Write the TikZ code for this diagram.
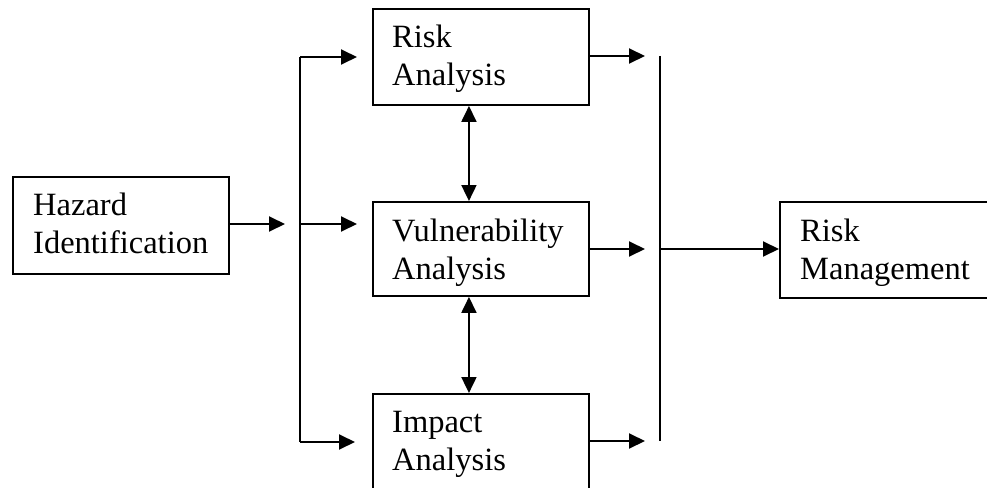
\documentclass[tikz,border=0pt]{standalone}
\usepackage{fontspec}
\setmainfont{Liberation Serif}
\usetikzlibrary{arrows.meta}
\begin{document}
\begin{tikzpicture}[x=1pt,y=1pt,
  box/.style={draw, line width=1.9pt, minimum width=216pt, inner sep=0pt, anchor=north west},
  txt/.style={anchor=base west, inner sep=0pt, font=\fontsize{32.5}{38}\selectfont},
  conn/.style={line width=1.9pt, -{Triangle[length=16pt,width=15pt]}},
  dconn/.style={line width=1.9pt, {Triangle[length=16pt,width=15pt]}-{Triangle[length=16pt,width=15pt]}},
  bus/.style={line width=1.9pt}]
\useasboundingbox (0,0) rectangle (987,-487);
\clip (0,0) rectangle (987,-487);
% boxes
\node[box, minimum height=97pt] (haz) at (12,-176) {};
\node[box, minimum height=96pt] (risk) at (372,-8) {};
\node[box, minimum height=94pt] (vul) at (372,-201) {};
\node[box, minimum height=130pt] (imp) at (372,-393) {};
\node[box, minimum width=240pt, minimum height=96pt] (rm) at (779,-201) {};
% texts
\node[txt] (hazT) at ([shift={(21,-39)}]haz.north west) {\begin{tabular}[t]{@{}l@{}}Hazard\\Identification\end{tabular}};
\node[txt] (riskT) at ([shift={(20,-40)}]risk.north west) {\begin{tabular}[t]{@{}l@{}}Risk\\Analysis\end{tabular}};
\node[txt] (vulT) at ([shift={(20,-40)}]vul.north west) {\begin{tabular}[t]{@{}l@{}}Vulnerability\\Analysis\end{tabular}};
\node[txt] (impT) at ([shift={(20,-39)}]imp.north west) {\begin{tabular}[t]{@{}l@{}}Impact\\Analysis\end{tabular}};
\node[txt] (rmT) at ([shift={(21,-40)}]rm.north west) {\begin{tabular}[t]{@{}l@{}}Risk\\Management\end{tabular}};
% left bus
\coordinate (lt) at (300,-57);
\coordinate (lm) at (300,-224);
\coordinate (lb) at (300,-442);
\draw[bus] (lt) -- (lb);
\coordinate (hazE) at (285,-224);
\draw[conn] (haz.east |- hazE) -- (hazE);
\draw[conn] (lt) -- ([xshift=-15pt]lt -| risk.west);
\draw[conn] (lm) -- ([xshift=-15pt]lm -| vul.west);
\draw[conn] (lb) -- ([xshift=-17pt]lb -| imp.west);
% right bus
\coordinate (rt) at (660,-56);
\coordinate (rmid) at (660,-249);
\coordinate (rb) at (660,-441);
\draw[bus] (rt) -- (rb);
\draw[conn] (risk.east |- rt) -- ([xshift=-15pt]rt);
\draw[conn] (vul.east |- rmid) -- ([xshift=-15pt]rmid);
\draw[conn] (imp.east |- rb) -- ([xshift=-15pt]rb);
\draw[conn] (rmid) -- (rmid -| rm.west);
% double arrows
\draw[dconn] ([xshift=-12pt]risk.south) -- ([xshift=-12pt]vul.north);
\draw[dconn] ([xshift=-12pt]vul.south) -- ([xshift=-12pt]imp.north);
\end{tikzpicture}
\end{document}
